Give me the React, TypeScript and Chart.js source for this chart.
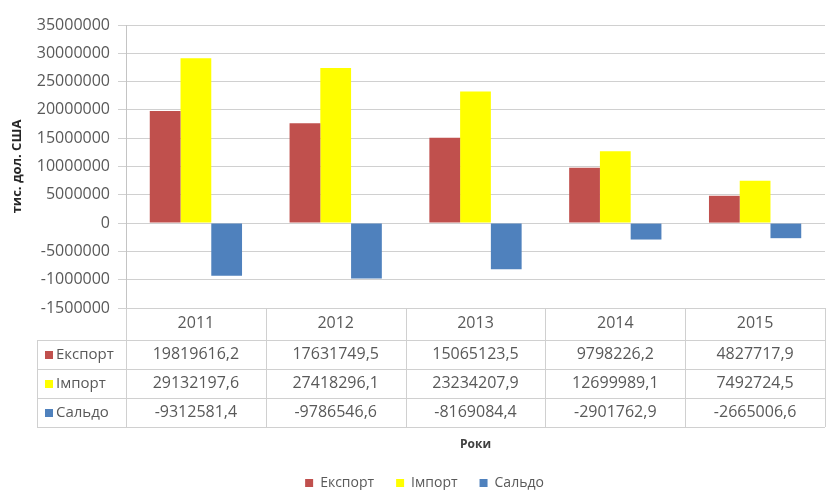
import { useEffect, useRef } from "react";
import { Chart, registerables } from "chart.js";

Chart.register(...registerables);

const years = ["2011", "2012", "2013", "2014", "2015"];
const seriesNames = ["Експорт", "Імпорт", "Сальдо"];
const exportValues = [19819616.2, 17631749.5, 15065123.5, 9798226.2, 4827717.9];
const importValues = [29132197.6, 27418296.1, 23234207.9, 12699989.1, 7492724.5];
const saldoValues = [-9312581.4, -9786546.6, -8169084.4, -2901762.9, -2665006.6];
const seriesColors = ["#C0504D", "#FFFF00", "#4F81BD"];
const yTickValues = [35000000, 30000000, 25000000, 20000000, 15000000, 10000000, 5000000, 0, -5000000, -10000000, -15000000];
const yTickLabels = ["35000000", "30000000", "25000000", "20000000", "15000000", "10000000", "5000000", "0", "-5000000", "-1000000", "-1500000"];
const yAxisTitle = "тис. дол. США";
const xAxisTitle = "Роки";

const FONT = "'Open Sans', sans-serif";
const LINE = "#d0d0d0";
const PAD_LEFT = 24;
const PAD_BOTTOM = -10;
const PLOT_BOTTOM = 308;

const fmt = (v: number) => v.toFixed(1).replace(".", ",");

const tablePlugin = {
  id: "dataTable",
  afterDraw(chart: any) {
    const { ctx, chartArea, scales } = chart;
    const xs = scales.x;
    const n = years.length;
    const catW = (chartArea.right - chartArea.left) / n;
    const top = chartArea.bottom;
    const headerBottom = top + 32;
    const rowH = 29;
    const tableLeft = 37;
    const datasets = chart.data.datasets;
    const bottom = headerBottom + rowH * datasets.length;
    const px = (v: number) => Math.round(v) + 0.5;

    ctx.save();
    ctx.strokeStyle = LINE;
    ctx.lineWidth = 1;
    ctx.beginPath();
    for (let r = 0; r <= datasets.length; r++) {
      const y = px(headerBottom + r * rowH);
      ctx.moveTo(tableLeft, y);
      ctx.lineTo(chartArea.right, y);
    }
    ctx.moveTo(px(tableLeft), headerBottom);
    ctx.lineTo(px(tableLeft), bottom);
    for (let i = 0; i <= n; i++) {
      const x = px(chartArea.left + i * catW);
      ctx.moveTo(x, top);
      ctx.lineTo(x, bottom);
    }
    ctx.stroke();

    ctx.textBaseline = "middle";
    datasets.forEach((ds: any, r: number) => {
      const cy = headerBottom + r * rowH + rowH / 2;
      ctx.fillStyle = ds.backgroundColor;
      ctx.fillRect(tableLeft + 8, Math.round(cy - 4), 8, 8);
      ctx.fillStyle = "#595959";
      ctx.textAlign = "left";
      ctx.font = `15px ${FONT}`;
      ctx.fillText(ds.label, tableLeft + 19, cy);
      ctx.textAlign = "center";
      ctx.font = `16px ${FONT}`;
      ds.data.forEach((v: number, i: number) => {
        ctx.fillText(fmt(v), xs.getPixelForValue(i), cy);
      });
    });
    ctx.restore();
  },
};

export default function App() {
  const ref = useRef<HTMLCanvasElement | null>(null);

  useEffect(() => {
    document.body.style.margin = "0";
    const canvas = ref.current;
    if (!canvas) return;
    const chart = new Chart(canvas, {
      type: "bar",
      data: {
        labels: years,
        datasets: [
          { label: seriesNames[0], data: exportValues, backgroundColor: seriesColors[0] },
          { label: seriesNames[1], data: importValues, backgroundColor: seriesColors[1] },
          { label: seriesNames[2], data: saldoValues, backgroundColor: seriesColors[2] },
        ],
      },
      options: {
        responsive: false,
        animation: false,
        devicePixelRatio: 1,
        layout: { padding: { top: 25, left: PAD_LEFT, right: 3, bottom: PAD_BOTTOM } },
        datasets: { bar: { categoryPercentage: 0.66, barPercentage: 1.0 } },
        plugins: {
          tooltip: { enabled: false },
          legend: {
            position: "bottom",
            labels: {
              boxWidth: 8,
              boxHeight: 8,
              padding: 22,
              color: "#595959",
              font: { family: FONT, size: 14 },
            },
          },
        },
        scales: {
          x: {
            grid: { display: false, drawTicks: false },
            border: { display: false },
            ticks: { color: "#595959", font: { family: FONT, size: 16 }, padding: 6 },
            title: {
              display: true,
              text: xAxisTitle,
              color: "#404040",
              font: { family: FONT, size: 12, weight: "bold" },
              padding: { top: 0, bottom: 2 },
            },
            afterFit: (s: any) => {
              const legendH = s.chart.legend ? s.chart.legend.height : 0;
              s.height = s.chart.height - PAD_BOTTOM - legendH - PLOT_BOTTOM;
            },
          },
          y: {
            min: -15000000,
            max: 35000000,
            afterBuildTicks: (s: any) => {
              s.ticks = yTickValues.map((v) => ({ value: v }));
            },
            grid: { color: LINE, tickLength: 8, drawTicks: true },
            border: { display: true, color: "#c4c4c4" },
            ticks: {
              color: "#595959",
              font: { family: FONT, size: 16 },
              padding: 8,
              callback: (value: any) => {
                const i = yTickValues.indexOf(Number(value));
                return i >= 0 ? yTickLabels[i] : "";
              },
            },
            title: {
              display: true,
              text: yAxisTitle,
              color: "#262626",
              font: { family: FONT, size: 13, weight: "bold" },
              padding: { top: -15, bottom: 0 },
            },
            afterFit: (s: any) => {
              s.width = 126 - PAD_LEFT;
            },
          },
        },
      },
      plugins: [tablePlugin],
    });
    return () => chart.destroy();
  }, []);

  return (
    <div style={{ position: "absolute", left: 0, top: 0, width: 828, height: 490, background: "#fff" }}>
      <canvas ref={ref} width={828} height={490} style={{ display: "block" }} />
    </div>
  );
}
